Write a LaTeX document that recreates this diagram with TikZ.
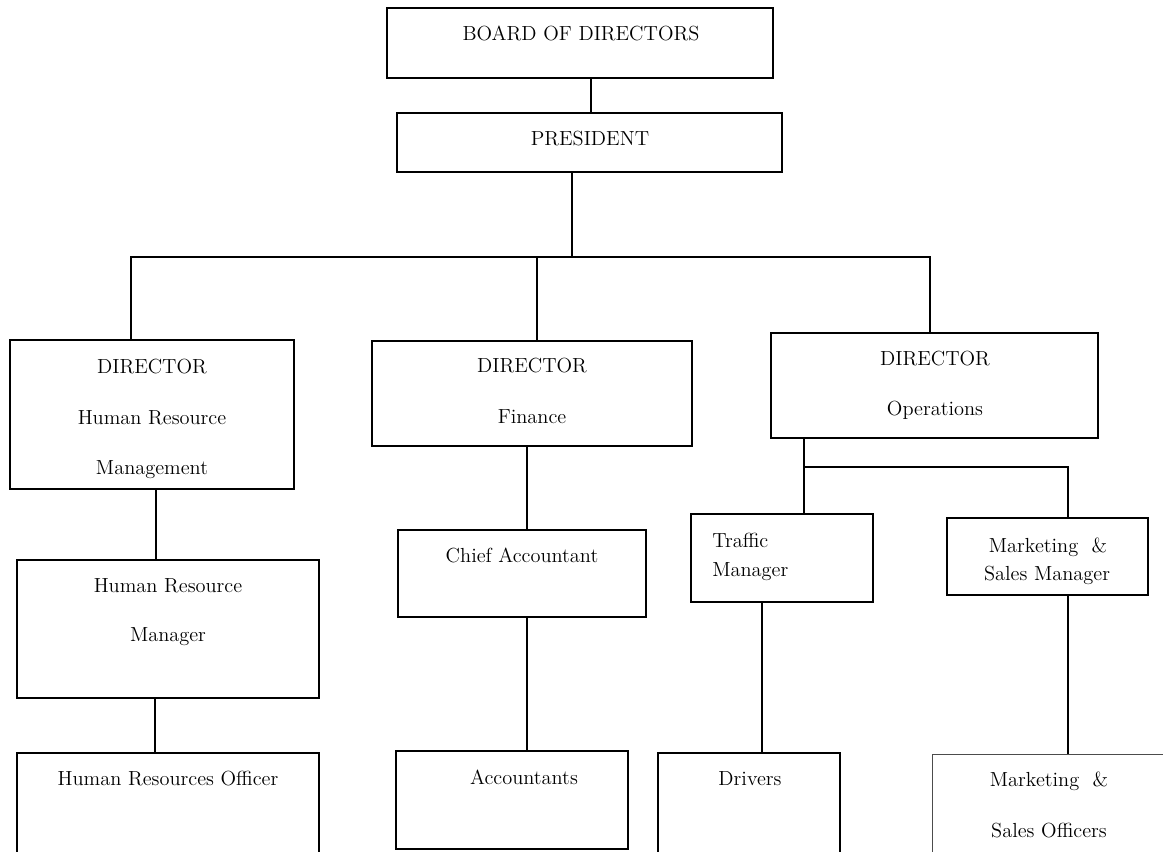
\documentclass[tikz,border=0pt]{standalone}
\usepackage{tikz}

\begin{document}
\begin{tikzpicture}[x=0.025cm, y=-0.025cm,
    box/.style={draw, line width=1.3pt, inner sep=0pt},
    lbl/.style={font=\fontsize{14.5}{17}\selectfont, inner sep=0pt, anchor=base},
    link/.style={line width=1.2pt}]

    % Page frame (chart runs off the bottom edge)
    \useasboundingbox (0,0) rectangle (1163,851);
    \clip (0,0) rectangle (1163,851);

    % Board and president
    \node[box, minimum width=9.65cm, minimum height=1.75cm] (board) at (580,43) {};
    \node[lbl] (boardtxt) at (581,40) {BOARD OF DIRECTORS};

    \node[box, minimum width=9.625cm, minimum height=1.475cm] (pres) at (589.5,142.5) {};
    \node[lbl] (prestxt) at (590,145) {PRESIDENT};

    % Directors
    \node[box, minimum width=7.1cm, minimum height=3.725cm] (hrdir) at (152,414.5) {};
    \node[lbl] (hrdira) at (152,373) {DIRECTOR};
    \node[lbl] (hrdirb) at (152,424) {Human Resource};
    \node[lbl] (hrdirc) at (152,474) {Management};

    \node[box, minimum width=8cm, minimum height=2.625cm] (findir) at (532,393.5) {};
    \node[lbl] (findira) at (532,372) {DIRECTOR};
    \node[lbl] (findirb) at (532,423) {Finance};

    \node[box, minimum width=8.175cm, minimum height=2.625cm] (opsdir) at (934.5,385.5) {};
    \node[lbl] (opsdira) at (935,365) {DIRECTOR};
    \node[lbl] (opsdirb) at (935,415) {Operations};

    % Managers
    \node[box, minimum width=7.55cm, minimum height=3.45cm] (hrman) at (168,629) {};
    \node[lbl] (hrmana) at (168,592) {Human Resource};
    \node[lbl] (hrmanb) at (168,641) {Manager};

    \node[box, minimum width=6.2cm, minimum height=2.175cm] (chief) at (522,573.5) {};
    \node[lbl] (chieftxt) at (522,562) {Chief Accountant};

    \node[box, minimum width=4.55cm, minimum height=2.2cm] (traffic) at (782,558) {};
    \node[lbl, anchor=base west] (traffica) at (712,547) {Traffic};
    \node[lbl, anchor=base west] (trafficb) at (712,576) {Manager};

    \node[box, minimum width=5.025cm, minimum height=1.925cm] (msm) at (1047.5,556.5) {};
    \node[lbl] (msma) at (1048,552) {Marketing\ \ \&};
    \node[lbl] (msmb) at (1047,580) {Sales Manager};

    % Staff (bottom row, cut by the page edge)
    \node[box, minimum width=7.55cm, minimum height=3.175cm] (hroff) at (168,816.5) {};
    \node[lbl] (hrofftxt) at (168,785) {Human Resources Officer};

    \node[box, minimum width=5.8cm, minimum height=2.45cm] (accts) at (512,800) {};
    \node[lbl] (acctstxt) at (524,784) {Accountants};

    \node[box, minimum width=4.55cm, minimum height=3.175cm] (drivers) at (749,816.5) {};
    \node[lbl] (driverstxt) at (750,785) {Drivers};

    \node[box, line width=0.6pt, draw=black!70, minimum width=6.45cm, minimum height=3.15cm] (mso) at (1061,817) {};
    \node[lbl] (msoa) at (1049,786) {Marketing\ \ \&};
    \node[lbl] (msob) at (1049,837) {Sales Officers};

    % Junction points
    \coordinate (barL) at (131,257);
    \coordinate (barP) at (572,257);
    \coordinate (barF) at (537,257);
    \coordinate (barR) at (930,257);
    \coordinate (opsL) at (804,467);
    \coordinate (opsR) at (1068,467);

    % Board to president, president to directors
    \draw[link] (board.south -| 591,0) -- (pres.north -| 591,0);
    \draw[link] (pres.south -| barP) -- (barP);
    \draw[link] (hrdir.north -| barL) -- (barL) -- (barR) -- (opsdir.north -| barR);
    \draw[link] (barF) -- (findir.north -| barF);

    % Human resources line
    \draw[link] (hrdir.south -| 156,0) -- (hrman.north -| 156,0);
    \draw[link] (hrman.south -| 155,0) -- (hroff.north -| 155,0);

    % Finance line
    \draw[link] (findir.south -| 527,0) -- (chief.north -| 527,0);
    \draw[link] (chief.south -| 527,0) -- (accts.north -| 527,0);

    % Operations line
    \draw[link] (opsdir.south -| opsL) -- (traffic.north -| opsL);
    \draw[link] (opsL) -- (opsR) -- (msm.north -| opsR);
    \draw[link] (traffic.south -| 762,0) -- (drivers.north -| 762,0);
    \draw[link] (msm.south -| opsR) -- (mso.north -| opsR);

\end{tikzpicture}
\end{document}
